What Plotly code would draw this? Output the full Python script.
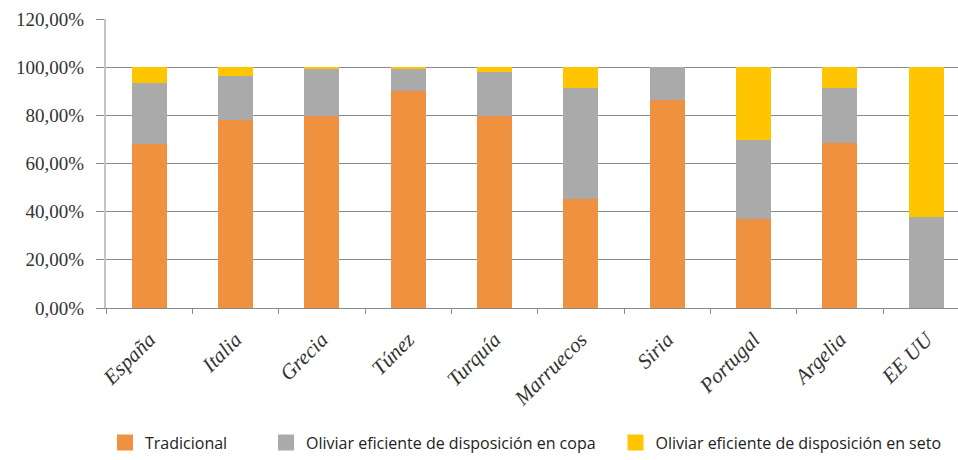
import plotly.graph_objects as go

paises = ["España", "Italia", "Grecia", "Túnez", "Turquía", "Marruecos", "Siria", "Portugal", "Argelia", "EE UU"]
tradicional = [68.2, 78.1, 79.6, 89.9, 79.6, 45.2, 86.2, 36.8, 68.7, 0.0]
copa = [25.3, 18.4, 19.9, 9.6, 18.4, 46.0, 13.8, 33.0, 22.5, 37.9]
seto = [6.5, 3.5, 0.5, 0.5, 2.0, 8.8, 0.0, 30.2, 8.8, 62.1]

series = [
    ("Tradicional", tradicional, "#F0913F", "legend", -0.0012),
    ("Oliviar eficiente de disposición en copa", copa, "#AAAAAA", "legend2", 0.1878),
    ("Oliviar eficiente de disposición en seto", seto, "#FFC600", "legend3", 0.598),
]

fig = go.Figure()
for name, vals, col, leg, _ in series:
    fig.add_trace(go.Bar(x=paises, y=vals, name=name, marker=dict(color=col, line=dict(width=0)),
                         width=0.405, showlegend=False))
# legend-only entries with larger square swatches
for name, vals, col, leg, _ in series:
    fig.add_trace(go.Scatter(x=[None], y=[None], mode="markers", name=name, legend=leg,
                             marker=dict(symbol="square", size=16, color=col), showlegend=True))

legfont = dict(family="Open Sans", size=16, color="#222222")
legs = {}
for name, vals, col, leg, xp in series:
    legs[leg] = dict(x=xp, y=-0.466, xanchor="left", yanchor="middle", orientation="h",
                     font=legfont, bgcolor="rgba(0,0,0,0)", itemsizing="trace", itemwidth=30)

fig.update_layout(
    width=958, height=460,
    margin=dict(l=106, r=0, t=19, b=147),
    paper_bgcolor="white", plot_bgcolor="white",
    barmode="stack", bargap=0.6,
    separators=",.",
    **legs,
    xaxis=dict(
        range=[-0.5, 9.367], showgrid=False, showline=True, linecolor="#8c8c8c", linewidth=1,
        ticks="outside", tickson="boundaries", ticklen=5, tickcolor="#8c8c8c",
        tickangle=-45, ticklabelstandoff=10,
        tickfont=dict(family="Liberation Serif", size=21, color="#333333", style="italic"),
    ),
    yaxis=dict(
        range=[0, 120], dtick=20, tickformat=".2f", ticksuffix="%",
        showgrid=True, gridcolor="#8c8c8c", gridwidth=1,
        showline=True, linecolor="#c4c4c4", linewidth=2,
        ticks="outside", ticklen=8, tickcolor="#8c8c8c", ticklabelstandoff=8,
        tickfont=dict(family="Liberation Serif", size=19, color="#333333"),
        zeroline=False,
    ),
)

fig.write_html("out.html")
